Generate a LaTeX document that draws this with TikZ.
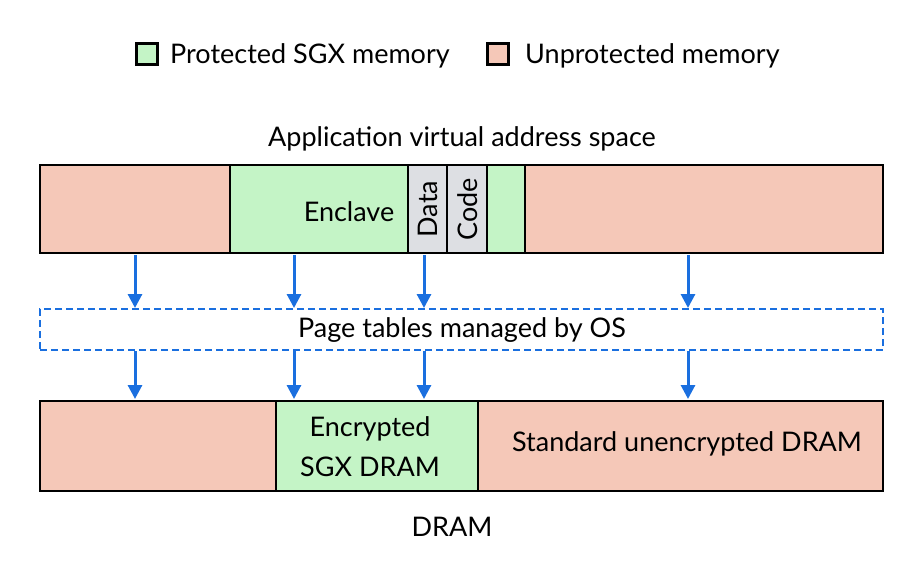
\documentclass[tikz,border=0pt]{standalone}
\usepackage{fontspec}
\setmainfont{Lato}
\usetikzlibrary{arrows.meta}
\definecolor{prot}{HTML}{C4F4C6}
\definecolor{unprot}{HTML}{F5C8B8}
\definecolor{grayc}{HTML}{DDDFE3}
\definecolor{arr}{HTML}{1A6FDF}
\tikzset{
  seg/.style={draw=black, line width=2.8pt},
  lbl/.style={font=\fontsize{27}{30}\selectfont, inner sep=0pt},
  arrow/.style={draw=arr, line width=3pt, -{Triangle[length=14pt,width=14pt]}},
}
\begin{document}
\begin{tikzpicture}[x=1pt,y=-1pt]
\useasboundingbox (0,0) rectangle (923,581);
% legend
\node[seg, fill=prot, minimum size=21pt, inner sep=0pt] (lg) at (147,54) {};
\node[lbl, anchor=west] (lgt) at (170,56) {Protected SGX memory};
\node[seg, fill=unprot, minimum size=21pt, inner sep=0pt] (lp) at (498,54) {};
\node[lbl, anchor=west] (lpt) at (525,56) {Unprotected memory};
% title
\node[lbl] (title) at (462,139) {Application virtual address space};
% top bar
\path[seg, fill=unprot] (40,165) rectangle (230,253);
\path[seg, fill=prot] (230,165) rectangle (408,253);
\path[seg, fill=grayc] (408,165) rectangle (447,253);
\path[seg, fill=grayc] (447,165) rectangle (487,253);
\path[seg, fill=prot] (487,165) rectangle (525,253);
\path[seg, fill=unprot] (525,165) rectangle (883,253);
\node[lbl] (enc) at (349,212) {Enclave};
\node[lbl, rotate=90] (data) at (428,209) {Data};
\node[lbl, rotate=90] (code) at (468,209) {Code};
% page tables
\node[draw=arr, dashed, dash pattern=on 7pt off 4pt, line width=2.5pt, minimum width=843pt, minimum height=41pt, inner sep=0pt] (pt) at (461.5,329.5) {};
\node[lbl] (ptt) at (462,330) {Page tables managed by OS};
% bottom bar
\path[seg, fill=unprot] (40,401) rectangle (276,491);
\path[seg, fill=prot] (276,401) rectangle (478,491);
\path[seg, fill=unprot] (478,401) rectangle (883,491);
\node[lbl] (e1) at (370,429) {Encrypted};
\node[lbl] (e2) at (370,467) {SGX DRAM};
\node[lbl] (std) at (687,444) {Standard unencrypted DRAM};
\node[lbl] (dram) at (452,527) {DRAM};
% arrows
\foreach \x in {135,294,424,688} {
  \coordinate (a\x) at (\x,255);
  \coordinate (b\x) at (\x,308);
  \coordinate (c\x) at (\x,351);
  \coordinate (d\x) at (\x,399);
  \draw[arrow] (a\x) -- (b\x);
  \draw[arrow] (c\x) -- (d\x);
}
\end{tikzpicture}
\end{document}
